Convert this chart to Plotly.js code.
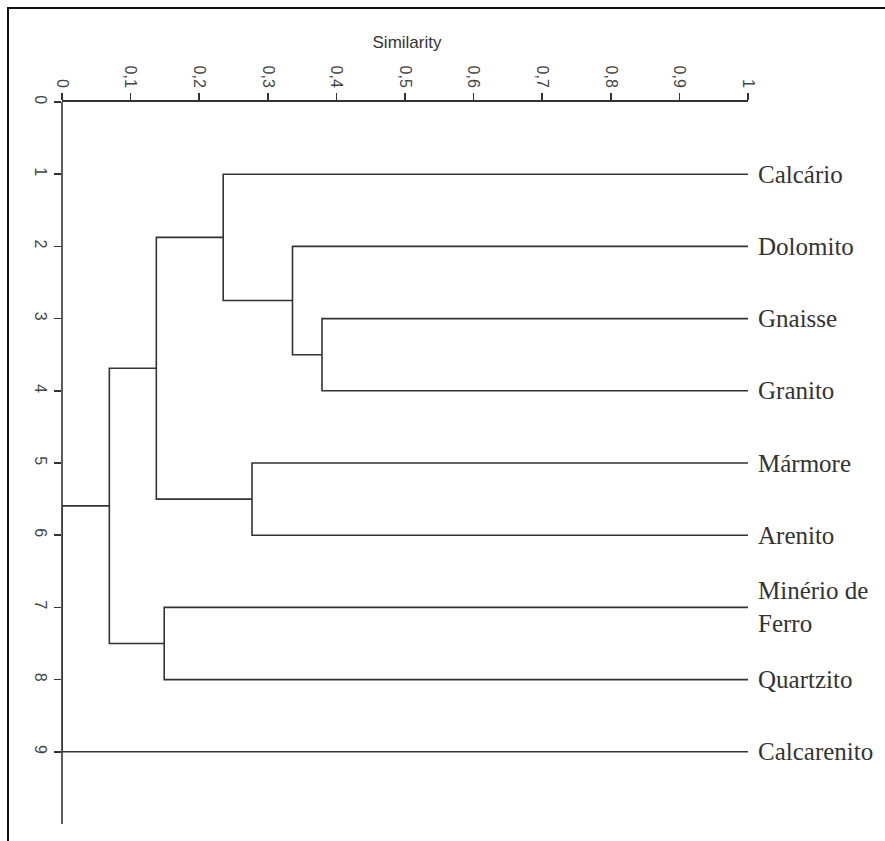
<!DOCTYPE html>
<html><head><meta charset="utf-8">
<script src="https://cdn.plot.ly/plotly-3.0.1.min.js"></script>
<style>
html,body{margin:0;padding:0;background:#fff;}
#wrap{position:relative;width:885px;height:841px;overflow:hidden;}
#chart{width:885px;height:841px;}
#frame{position:absolute;left:7px;top:7px;right:-10px;bottom:-10px;border-left:2px solid #111;border-top:2px solid #111;pointer-events:none;}
</style></head><body>
<div id="wrap"><div id="chart"></div><div id="frame"></div></div>
<script>
// Leaves (top to bottom) and their positions on the vertical axis
const leaves = ['Calcário','Dolomito','Gnaisse','Granito','Mármore','Arenito','Minério de<br>Ferro','Quartzito','Calcarenito'];
const leafPositions = [1,2,3,4,5,6,7,8,9];
const leafSimilarity = 1;
// Merges: node indices 0-8 are leaves, new nodes are 9,10,...
const mergeLeft  = [2, 1, 0, 4, 11, 6, 13, 15];
const mergeRight = [3, 9, 10, 5, 12, 7, 14, 8];
const mergeSimilarity = [0.379, 0.336, 0.235, 0.277, 0.1375, 0.149, 0.069, 0];
const xTicks = [0,0.1,0.2,0.3,0.4,0.5,0.6,0.7,0.8,0.9,1];
const yTicks = [0,1,2,3,4,5,6,7,8,9];
const yRange = [10, 0];

const posY = leafPositions.slice();
const simX = leaves.map(() => leafSimilarity);
const xs = [], ys = [];
mergeLeft.forEach((a, i) => {
  const b = mergeRight[i], s = mergeSimilarity[i];
  xs.push(simX[a], s, s, simX[b], null);
  ys.push(posY[a], posY[a], posY[b], posY[b], null);
  posY.push((posY[a] + posY[b]) / 2);
  simX.push(s);
});

const lineColor = '#333';
const tickFont = {family: 'Liberation Sans, Arial, sans-serif', size: 16, color: '#444'};

const annotations = leaves.map((name, i) => ({
  x: leafSimilarity, y: leafPositions[i], xref: 'x', yref: 'y',
  text: name, showarrow: false, xanchor: 'left', yanchor: 'middle', xshift: 8, align: 'left',
  font: {family: 'Liberation Serif, Times New Roman, serif', size: 25, color: '#333'}
}));

Plotly.newPlot('chart', [{
  x: xs, y: ys, type: 'scatter', mode: 'lines', cliponaxis: false,
  line: {color: lineColor, width: 1.6}, hoverinfo: 'skip', showlegend: false
}], {
  width: 885, height: 841,
  margin: {l: 62, r: 137, t: 102, b: 17},
  paper_bgcolor: '#fff', plot_bgcolor: '#fff',
  separators: ',.',
  title: {text: 'Similarity', x: 407/885, xref: 'container', xanchor: 'center',
          y: 1 - 42/841, yref: 'container', yanchor: 'middle',
          font: {family: 'Liberation Sans, Arial, sans-serif', size: 17, color: '#333'}},
  xaxis: {range: [0, 1], side: 'top', showline: true, linecolor: lineColor, linewidth: 1.6,
          ticks: 'outside', ticklen: 7, tickwidth: 1.5, tickcolor: lineColor,
          tickvals: xTicks, tickangle: 90, tickfont: tickFont,
          showgrid: false, zeroline: false, automargin: false, fixedrange: true},
  yaxis: {range: yRange, showline: false,
          ticks: 'outside', ticklen: 7, tickwidth: 1.5, tickcolor: lineColor,
          tickvals: yTicks, tickangle: 90, tickfont: tickFont,
          showgrid: false, zeroline: false, automargin: false, fixedrange: true},
  shapes: [{type: 'line', xref: 'paper', yref: 'paper', x0: 0, x1: 0, y0: 0, y1: 1,
            line: {color: lineColor, width: 1.6}, layer: 'above'}],
  annotations: annotations
}, {displayModeBar: false, staticPlot: true});
</script>
</body></html>
